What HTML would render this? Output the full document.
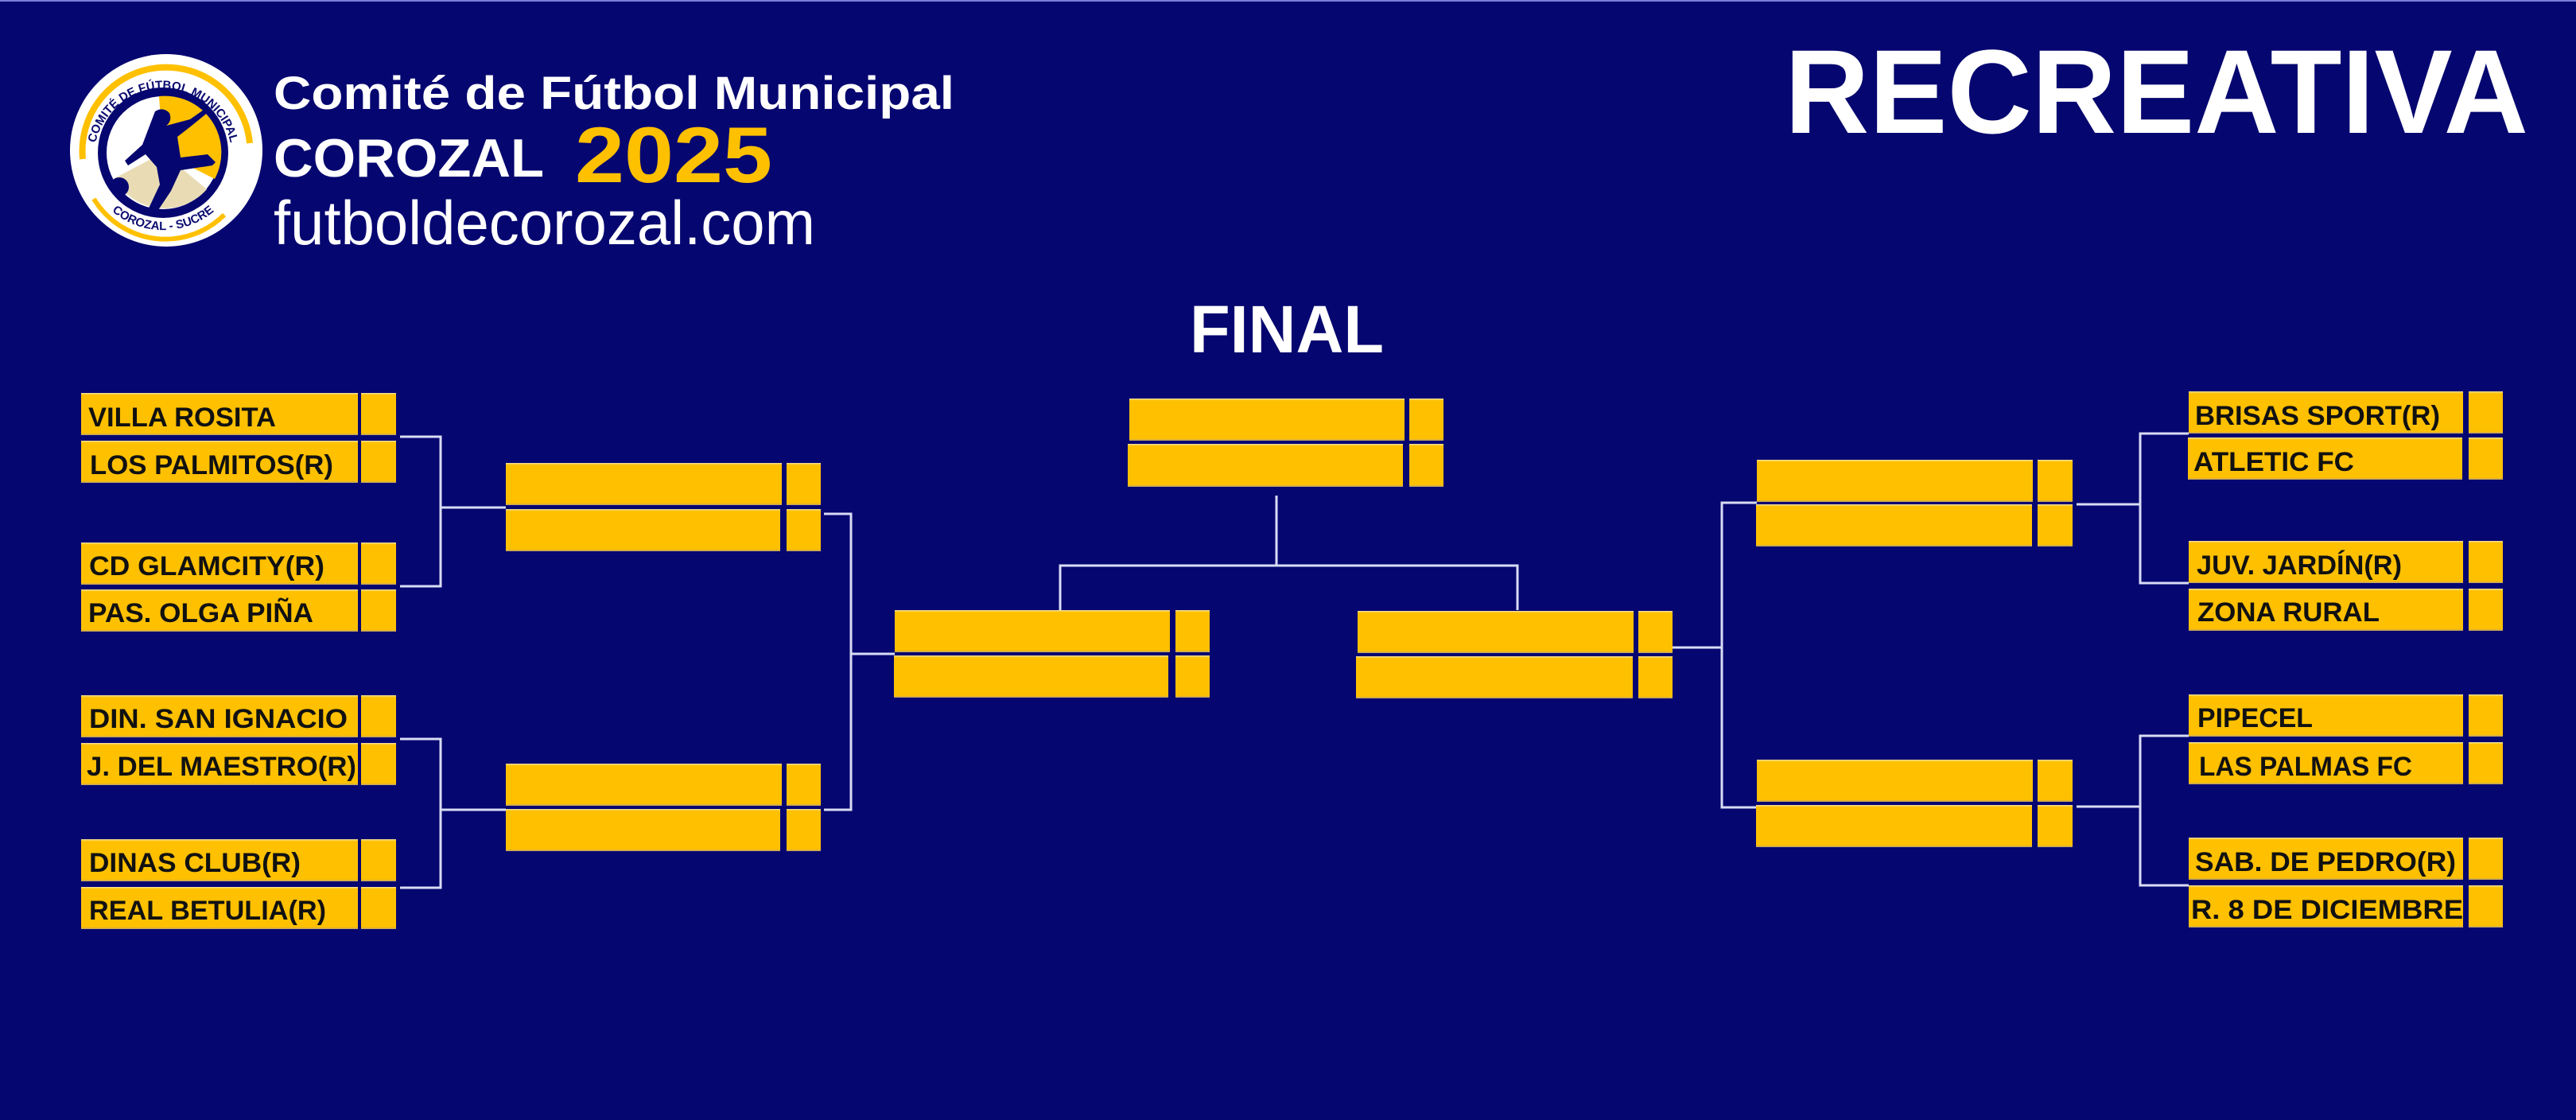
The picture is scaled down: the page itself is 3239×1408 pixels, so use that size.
<!DOCTYPE html>
<html><head><meta charset="utf-8">
<style>
html,body{margin:0;padding:0;background:#060670;}
svg{display:block;}
</style></head>
<body>
<svg width="3239" height="1408" viewBox="0 0 3239 1408" xmlns="http://www.w3.org/2000/svg">
<defs>
<linearGradient id="bx" x1="0" y1="0" x2="0" y2="1">
<stop offset="0" stop-color="#f4e3a8"/><stop offset="0.05" stop-color="#ffc000"/><stop offset="0.95" stop-color="#ffc000"/><stop offset="1" stop-color="#b8a070"/>
</linearGradient>
<path id="arcTop" d="M 119 212 A 87 87 0 1 1 291 212"/>
<path id="arcBot" d="M 110 218 A 99 99 0 0 0 300 218"/>
</defs>
<rect width="3239" height="1408" fill="#060670"/>
<rect width="3239" height="2" fill="#7b80d8"/>

<!-- Logo -->
<circle cx="209" cy="189" r="121" fill="#fff"/>
<path d="M 104 200 A 105 105 0 0 1 314 180" fill="none" stroke="#ffc000" stroke-width="8"/>
<path d="M 118 250 A 105 105 0 0 0 282 270" fill="none" stroke="#ffc000" stroke-width="6"/>
<circle cx="205" cy="192" r="82" fill="#060670"/>
<circle cx="205" cy="192" r="71" fill="#fff"/>
<path d="M205 192 L200 121 A71 71 0 0 1 270 225 Z" fill="#ffc000"/>
<path d="M205 192 L144 224 A71 71 0 0 0 260 238 Z" fill="#e9dcb5"/>
<path d="M195 140 q10 -6 18 2 q4 10 -4 16 l30 -8 l20 -14 l4 4 l-22 18 l-18 14 l4 26 l34 -4 l10 10 l-4 4 l-40 6 l-12 26 l-20 30 l-10 -4 l16 -34 l-4 -22 l-14 -16 l-22 14 l-4 -6 l22 -20 Z" fill="#060670"/>
<circle cx="150" cy="235" r="12" fill="#060670"/>
<text font-family="Liberation Sans,sans-serif" font-weight="bold" font-size="15" fill="#0a0a70"><textPath href="#arcTop" startOffset="50%" text-anchor="middle">COMITÉ DE FÚTBOL MUNICIPAL</textPath></text>
<text font-family="Liberation Sans,sans-serif" font-weight="bold" font-size="15" fill="#0a0a70"><textPath href="#arcBot" startOffset="50%" text-anchor="middle">COROZAL - SUCRE</textPath></text>

<!-- Header text -->
<text x="344" y="137" font-family="Liberation Sans,sans-serif" font-weight="bold" font-size="58" fill="#fff" textLength="856" lengthAdjust="spacingAndGlyphs">Comité de Fútbol Municipal</text>
<text x="344" y="222" font-family="Liberation Sans,sans-serif" font-weight="bold" font-size="68" fill="#fff" textLength="340" lengthAdjust="spacingAndGlyphs">COROZAL</text>
<text x="723" y="229" font-family="Liberation Sans,sans-serif" font-weight="bold" font-size="99" fill="#ffc000" textLength="248" lengthAdjust="spacingAndGlyphs">2025</text>
<text x="344" y="307" font-family="Liberation Sans,sans-serif" font-size="78" fill="#fff" textLength="681" lengthAdjust="spacingAndGlyphs">futboldecorozal.com</text>
<text x="2244" y="167" font-family="Liberation Sans,sans-serif" font-weight="bold" font-size="150" fill="#fff" textLength="935" lengthAdjust="spacingAndGlyphs">RECREATIVA</text>
<text x="1496" y="443" font-family="Liberation Sans,sans-serif" font-weight="bold" font-size="84" fill="#fff" textLength="244" lengthAdjust="spacingAndGlyphs">FINAL</text>

<!-- Connectors -->
<g fill="none" stroke="#d8dcf4" stroke-width="3">
<polyline points="503,549 554,549 554,737 503,737"/><line x1="554" y1="638" x2="636" y2="638"/>
<polyline points="503,929 554,929 554,1116 503,1116"/><line x1="554" y1="1018" x2="636" y2="1018"/>
<polyline points="1036,646 1070,646 1070,1018 1036,1018"/><line x1="1070" y1="822" x2="1125" y2="822"/>
<line x1="1605" y1="623" x2="1605" y2="711"/>
<polyline points="1333,767 1333,711 1908,711 1908,767"/>
<line x1="2103" y1="814" x2="2165" y2="814"/>
<polyline points="2209,632 2165,632 2165,1015 2209,1015"/>
<polyline points="2752,545 2691,545 2691,733 2752,733"/><line x1="2611" y1="634" x2="2691" y2="634"/>
<polyline points="2752,925 2691,925 2691,1113 2752,1113"/><line x1="2611" y1="1014" x2="2691" y2="1014"/>
</g>

<!-- Boxes -->
<g fill="url(#bx)">
<rect x="102" y="494" width="348" height="53"/><rect x="454" y="494" width="44" height="53"/>
<rect x="102" y="554" width="348" height="53"/><rect x="454" y="554" width="44" height="53"/>
<rect x="102" y="682" width="348" height="53"/><rect x="454" y="682" width="44" height="53"/>
<rect x="102" y="741" width="348" height="53"/><rect x="454" y="741" width="44" height="53"/>
<rect x="102" y="874" width="348" height="53"/><rect x="454" y="874" width="44" height="53"/>
<rect x="102" y="934" width="348" height="53"/><rect x="454" y="934" width="44" height="53"/>
<rect x="102" y="1055" width="348" height="53"/><rect x="454" y="1055" width="44" height="53"/>
<rect x="102" y="1115" width="348" height="53"/><rect x="454" y="1115" width="44" height="53"/>
<rect x="636" y="582" width="347" height="53"/><rect x="989" y="582" width="43" height="53"/>
<rect x="636" y="640" width="345" height="53"/><rect x="989" y="640" width="43" height="53"/>
<rect x="636" y="960" width="347" height="53"/><rect x="989" y="960" width="43" height="53"/>
<rect x="636" y="1017" width="345" height="53"/><rect x="989" y="1017" width="43" height="53"/>
<rect x="1125" y="767" width="346" height="53"/><rect x="1478" y="767" width="43" height="53"/>
<rect x="1124" y="824" width="345" height="53"/><rect x="1478" y="824" width="43" height="53"/>
<rect x="1420" y="501" width="346" height="53"/><rect x="1772" y="501" width="43" height="53"/>
<rect x="1418" y="558" width="346" height="54"/><rect x="1772" y="558" width="43" height="54"/>
<rect x="1707" y="768" width="347" height="53"/><rect x="2060" y="768" width="43" height="53"/>
<rect x="1705" y="825" width="348" height="53"/><rect x="2060" y="825" width="43" height="53"/>
<rect x="2209" y="578" width="347" height="53"/><rect x="2562" y="578" width="44" height="53"/>
<rect x="2208" y="634" width="347" height="53"/><rect x="2562" y="634" width="44" height="53"/>
<rect x="2209" y="955" width="347" height="53"/><rect x="2562" y="955" width="44" height="53"/>
<rect x="2208" y="1012" width="347" height="53"/><rect x="2562" y="1012" width="44" height="53"/>
<rect x="2752" y="492" width="345" height="53"/><rect x="3104" y="492" width="43" height="53"/>
<rect x="2751" y="550" width="345" height="53"/><rect x="3104" y="550" width="43" height="53"/>
<rect x="2752" y="680" width="345" height="53"/><rect x="3104" y="680" width="43" height="53"/>
<rect x="2752" y="740" width="345" height="53"/><rect x="3104" y="740" width="43" height="53"/>
<rect x="2752" y="873" width="345" height="53"/><rect x="3104" y="873" width="43" height="53"/>
<rect x="2752" y="933" width="345" height="53"/><rect x="3104" y="933" width="43" height="53"/>
<rect x="2752" y="1053" width="345" height="53"/><rect x="3104" y="1053" width="43" height="53"/>
<rect x="2752" y="1113" width="345" height="53"/><rect x="3104" y="1113" width="43" height="53"/>
</g>

<!-- Team names -->
<g style="font-family:'Liberation Sans',sans-serif;font-weight:bold;font-size:34px;fill:#111">
<text x="111" y="536" textLength="236" lengthAdjust="spacingAndGlyphs">VILLA ROSITA</text>
<text x="113" y="596" textLength="306" lengthAdjust="spacingAndGlyphs">LOS PALMITOS(R)</text>
<text x="112" y="723" textLength="296" lengthAdjust="spacingAndGlyphs">CD GLAMCITY(R)</text>
<text x="111" y="782" textLength="283" lengthAdjust="spacingAndGlyphs">PAS. OLGA PIÑA</text>
<text x="112" y="915" textLength="325" lengthAdjust="spacingAndGlyphs">DIN. SAN IGNACIO</text>
<text x="109" y="975" textLength="339" lengthAdjust="spacingAndGlyphs">J. DEL MAESTRO(R)</text>
<text x="112" y="1096" textLength="266" lengthAdjust="spacingAndGlyphs">DINAS CLUB(R)</text>
<text x="112" y="1156" textLength="298" lengthAdjust="spacingAndGlyphs">REAL BETULIA(R)</text>

<text x="2760" y="534" textLength="308" lengthAdjust="spacingAndGlyphs">BRISAS SPORT(R)</text>
<text x="2758" y="592" textLength="202" lengthAdjust="spacingAndGlyphs">ATLETIC FC</text>
<text x="2762" y="722" textLength="258" lengthAdjust="spacingAndGlyphs">JUV. JARDÍN(R)</text>
<text x="2763" y="781" textLength="229" lengthAdjust="spacingAndGlyphs">ZONA RURAL</text>
<text x="2763" y="914" textLength="145" lengthAdjust="spacingAndGlyphs">PIPECEL</text>
<text x="2765" y="975" textLength="268" lengthAdjust="spacingAndGlyphs">LAS PALMAS FC</text>
<text x="2760" y="1095" textLength="328" lengthAdjust="spacingAndGlyphs">SAB. DE PEDRO(R)</text>
<text x="2755" y="1155" textLength="342" lengthAdjust="spacingAndGlyphs">R. 8 DE DICIEMBRE</text>
</g>
</svg>
</body></html>
